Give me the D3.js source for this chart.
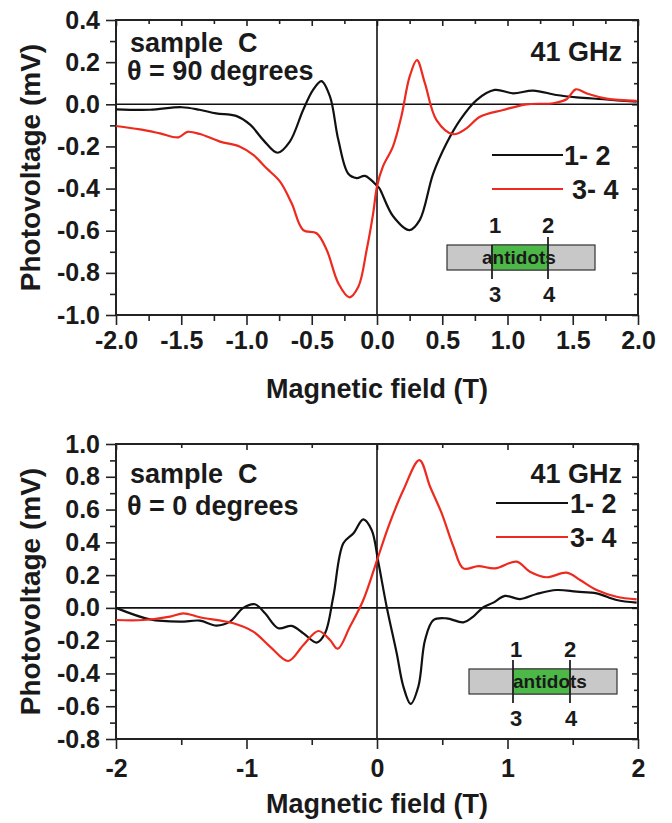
<!DOCTYPE html>
<html><head><meta charset="utf-8">
<script src="https://cdn.jsdelivr.net/npm/d3@7"></script>
<style>body{margin:0;background:#fff}svg text{font-family:"Liberation Sans",Arial,sans-serif;font-weight:bold;fill:#1a1a1a}</style>
</head><body>
<script>
// ---------- data ----------
const topX12 = [-2.0,-1.74,-1.497,-1.36,-1.233,-1.08,-0.97,-0.871,-0.762,-0.668,-0.566,-0.49,-0.426,-0.36,-0.296,-0.22,-0.156,-0.092,0.005,0.02,0.122,0.25,0.327,0.43,0.533,0.636,0.763,0.902,1.043,1.196,1.375,1.53,1.735,1.99];
const topY12 = [-0.024,-0.026,-0.014,-0.026,-0.043,-0.055,-0.098,-0.17,-0.23,-0.177,-0.027,0.068,0.11,0.036,-0.17,-0.33,-0.35,-0.34,-0.39,-0.40,-0.53,-0.597,-0.55,-0.33,-0.185,-0.075,0.02,0.068,0.052,0.065,0.044,0.033,0.024,0.012];
const topX34 = [-2.0,-1.816,-1.663,-1.522,-1.453,-1.357,-1.203,-1.05,-0.948,-0.846,-0.743,-0.654,-0.565,-0.463,-0.386,-0.296,-0.212,-0.143,-0.079,-0.03,0.0,0.045,0.122,0.186,0.25,0.306,0.367,0.456,0.584,0.686,0.789,0.967,1.146,1.35,1.453,1.524,1.606,1.759,1.99];
const topY34 = [-0.103,-0.119,-0.138,-0.157,-0.131,-0.141,-0.177,-0.201,-0.24,-0.304,-0.367,-0.47,-0.597,-0.612,-0.69,-0.85,-0.916,-0.866,-0.69,-0.52,-0.39,-0.296,-0.201,-0.059,0.131,0.21,0.1,-0.075,-0.142,-0.114,-0.059,-0.027,0.0,0.005,0.024,0.071,0.052,0.027,0.016];
const botX12 = [-2.0,-1.74,-1.51,-1.357,-1.23,-1.127,-1.025,-0.935,-0.858,-0.756,-0.654,-0.564,-0.462,-0.398,-0.335,-0.258,-0.18,-0.105,-0.041,0.01,0.074,0.151,0.202,0.258,0.317,0.368,0.432,0.534,0.662,0.738,0.815,0.892,0.98,1.096,1.223,1.377,1.53,1.683,1.836,1.99];
const botY12 = [0.0,-0.07,-0.084,-0.078,-0.108,-0.084,0.0,0.022,-0.033,-0.124,-0.11,-0.155,-0.212,-0.155,0.068,0.394,0.455,0.54,0.475,0.28,0.007,-0.277,-0.48,-0.586,-0.48,-0.196,-0.074,-0.064,-0.088,-0.053,0.004,0.032,0.073,0.054,0.085,0.109,0.099,0.089,0.048,0.032];
const botX34 = [-2.0,-1.79,-1.586,-1.484,-1.357,-1.1,-0.948,-0.82,-0.68,-0.564,-0.449,-0.36,-0.301,-0.207,-0.105,0.0,0.087,0.202,0.325,0.407,0.496,0.586,0.662,0.777,0.904,1.07,1.172,1.3,1.453,1.556,1.683,1.836,1.99];
const botY34 = [-0.074,-0.074,-0.053,-0.033,-0.057,-0.094,-0.145,-0.236,-0.324,-0.226,-0.141,-0.196,-0.249,-0.114,0.048,0.29,0.495,0.719,0.902,0.739,0.577,0.373,0.241,0.255,0.241,0.282,0.221,0.187,0.215,0.17,0.109,0.068,0.052];
const topXTicks = [-2.0,-1.5,-1.0,-0.5,0.0,0.5,1.0,1.5,2.0];
const topYTicks = [0.4,0.2,0.0,-0.2,-0.4,-0.6,-0.8,-1.0];
const botXTicks = [-2,-1,0,1,2];
const botYTicks = [1.0,0.8,0.6,0.4,0.2,0.0,-0.2,-0.4,-0.6,-0.8];
const seriesNames = ["1- 2","3- 4"];
const seriesColors = ["#111111","#ee2a1e"];

const svg = d3.select("body").append("svg").attr("width",672).attr("height",823);
const hy = f => v => f(v).replace("−","-");

function panel(o){
  const x = d3.scaleLinear().domain([-2,2]).range([116,638]);
  const y = d3.scaleLinear().domain(o.ydom).range([o.y1,o.y0]);
  const g = svg.append("g");
  const xMinor = d3.range(-2, 2.0001, o.xMinor);
  const yMinor = d3.range(o.ydom[0], o.ydom[1]+1e-6, 0.1);
  const isMajorX = v => Math.abs(v/o.xMajor - Math.round(v/o.xMajor))<1e-6;
  const isMajorY = v => Math.abs(v/0.2 - Math.round(v/0.2))<1e-6;
  g.append("g").attr("transform",`translate(0,${o.y1})`)
    .call(d3.axisBottom(x).tickValues(xMinor).tickSizeOuter(0).tickFormat(""))
    .call(a=>{a.select(".domain").remove();a.selectAll("line").attr("y2",v=>isMajorX(v)?10:6).attr("stroke","#222").attr("stroke-width",1.6);});
  g.append("g").attr("transform",`translate(0,${o.y1})`)
    .call(d3.axisBottom(x).tickValues(o.xTicks).tickSize(0).tickPadding(o.xPad).tickFormat(hy(o.xfmt)))
    .call(a=>{a.select(".domain").remove();a.selectAll("text").attr("font-size",25).attr("fill","#1a1a1a");});
  g.append("g").attr("transform",`translate(0,${o.y0})`)
    .call(d3.axisTop(x).tickValues(xMinor).tickSizeOuter(0).tickFormat(""))
    .call(a=>{a.select(".domain").remove();a.selectAll("line").attr("y2",v=>isMajorX(v)?6:4).attr("stroke","#222").attr("stroke-width",1.6);});
  g.append("g").attr("transform",`translate(116,0)`)
    .call(d3.axisLeft(y).tickValues(yMinor).tickSizeOuter(0).tickFormat(""))
    .call(a=>{a.select(".domain").remove();a.selectAll("line").attr("x2",v=>isMajorY(v)?-10:-6).attr("stroke","#222").attr("stroke-width",1.6);});
  g.append("g").attr("transform",`translate(116,0)`)
    .call(d3.axisLeft(y).tickValues(o.yTicks).tickSize(0).tickPadding(16).tickFormat(hy(d3.format(".1f"))))
    .call(a=>{a.select(".domain").remove();a.selectAll("text").attr("font-size",25).attr("fill","#1a1a1a");});
  g.append("g").attr("transform",`translate(638,0)`)
    .call(d3.axisRight(y).tickValues(yMinor).tickSizeOuter(0).tickFormat(""))
    .call(a=>{a.select(".domain").remove();a.selectAll("line").attr("x2",v=>isMajorY(v)?-6:-4).attr("stroke","#222").attr("stroke-width",1.6);});
  g.append("line").attr("x1",x(-2)).attr("x2",x(2)).attr("y1",y(0)).attr("y2",y(0)).attr("stroke","#111").attr("stroke-width",1.6);
  g.append("line").attr("x1",x(0)).attr("x2",x(0)).attr("y1",o.y0).attr("y2",o.y1).attr("stroke","#111").attr("stroke-width",1.6);
  g.append("rect").attr("x",116).attr("y",o.y0).attr("width",522).attr("height",o.y1-o.y0).attr("fill","none").attr("stroke","#222").attr("stroke-width",2);
  const line = d3.line().x(d=>x(d[0])).y(d=>y(d[1])).curve(d3.curveCatmullRom.alpha(0.5));
  o.series.forEach((s,i)=>{
    g.append("path").datum(d3.zip(s[0],s[1])).attr("d",line).attr("fill","none").attr("stroke",seriesColors[i]).attr("stroke-width",2.2);
  });
  g.append("text").attr("x",377).attr("y",o.xTitleY).attr("text-anchor","middle").attr("font-size",27).text("Magnetic field (T)");
  g.append("text").attr("transform",`translate(40,${(o.y0+o.y1)/2}) rotate(-90)`).attr("text-anchor","middle").attr("font-size",28).text("Photovoltage (mV)");
  g.append("text").attr("x",130).attr("y",o.y0+o.a1).attr("font-size",27).attr("xml:space","preserve").text("sample  C");
  g.append("text").attr("x",127).attr("y",o.y0+o.a2).attr("font-size",27).text(o.theta);
  g.append("text").attr("x",622).attr("y",o.y0+o.aG).attr("text-anchor","end").attr("font-size",27).text("41 GHz");
  o.leg.forEach((L,i)=>{
    g.append("line").attr("x1",L.x1).attr("x2",L.x2).attr("y1",L.y).attr("y2",L.y).attr("stroke",seriesColors[i]).attr("stroke-width",2.2);
    g.append("text").attr("x",L.tx).attr("y",L.y+10).attr("font-size",27).text(seriesNames[i]);
  });
  const I = o.inset;
  g.append("rect").attr("x",I.gx0).attr("y",I.y0).attr("width",I.gx1-I.gx0).attr("height",I.y1-I.y0).attr("fill","#c8c8c8").attr("stroke","#333").attr("stroke-width",1.2);
  g.append("rect").attr("x",I.cx0).attr("y",I.y0).attr("width",I.cx1-I.cx0).attr("height",I.y1-I.y0).attr("fill","#4cb848").attr("stroke","#333").attr("stroke-width",1);
  g.append("text").attr("x",I.tx).attr("y",I.y1-6).attr("font-size",19).text("antidots");
  g.append("line").attr("x1",I.cx0).attr("x2",I.cx0).attr("y1",I.l1top).attr("y2",I.y1+9).attr("stroke","#222").attr("stroke-width",1.8);
  g.append("line").attr("x1",I.cx1).attr("x2",I.cx1).attr("y1",I.l2top).attr("y2",I.y1+9).attr("stroke","#222").attr("stroke-width",1.8);
  [["1",I.cx0+3,I.y0-12],["2",I.cx1,I.y0-12],["3",I.cx0+3,I.y1+32],["4",I.cx1+1,I.y1+32]].forEach(t=>{
    g.append("text").attr("x",t[1]).attr("y",t[2]).attr("text-anchor","middle").attr("font-size",22).text(t[0]);
  });
}

panel({ydom:[-1.0,0.4], y0:20, y1:315, xTicks:topXTicks, yTicks:topYTicks, xMinor:0.25, xMajor:0.5, xfmt:d3.format(".1f"), xPad:16, xTitleY:398,
  series:[[topX12,topY12],[topX34,topY34]], theta:"θ = 90 degrees", a1:32, a2:60, aG:41,
  leg:[{x1:492,x2:563,y:155,tx:564},{x1:492,x2:563,y:189,tx:572}],
  inset:{gx0:447,gx1:595,cx0:492,cx1:548,y0:245,y1:270,tx:482,l1top:245,l2top:237}});
panel({ydom:[-0.8,1.0], y0:444, y1:739, xTicks:botXTicks, yTicks:botYTicks, xMinor:0.5, xMajor:1, xfmt:d3.format("d"), xPad:20, xTitleY:813,
  series:[[botX12,botY12],[botX34,botY34]], theta:"θ = 0 degrees", a1:39, a2:71, aG:39,
  leg:[{x1:496,x2:568,y:503,tx:570},{x1:496,x2:568,y:537,tx:570}],
  inset:{gx0:469,gx1:617,cx0:513,cx1:570,y0:669,y1:694,tx:513,l1top:660,l2top:660}});
</script>
</body></html>
